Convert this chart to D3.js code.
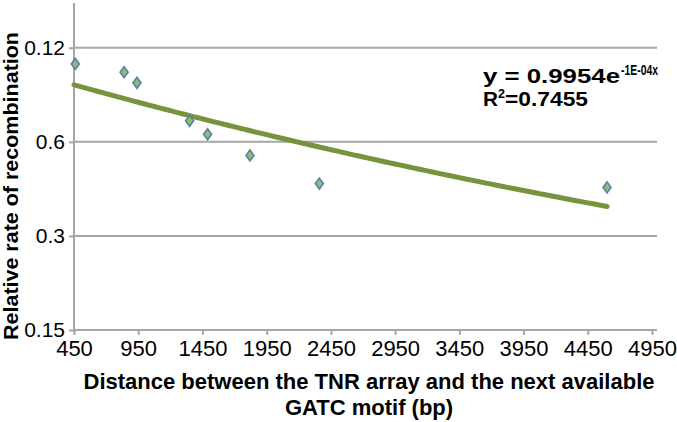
<!DOCTYPE html>
<html><head><meta charset="utf-8">
<script src="https://cdn.jsdelivr.net/npm/d3@7/dist/d3.min.js"></script>
<style>body{margin:0;background:#fff}svg{display:block;font-family:"Liberation Sans",Arial,sans-serif}</style>
</head><body><svg id="c" width="677" height="422"></svg>
<script>
// Data
const distance = [460, 840, 940, 1350, 1490, 1820, 2360, 4600];
const rate = [1.007, 0.985, 0.957, 0.856, 0.820, 0.764, 0.689, 0.679];
const xTicks = [450, 950, 1450, 1950, 2450, 2950, 3450, 3950, 4450, 4950];
const yTickValues = [0.30, 0.55, 0.80, 1.05];
const yTickLabels = ["0.15", "0.3", "0.6", "0.12"];
const trendA = 0.9954, trendB = -1e-4, trendStart = 450, trendEnd = 4600;

const svg = d3.select("#c");
const x = d3.scaleLinear().domain([450, 4950]).range([74, 652]);
const y = d3.scaleLinear().domain([0.30, 1.169]).range([330, 3]);
const gridRight = 657;
const grey = "#a6a6a6";

// gridlines
svg.append("g").selectAll("line").data(yTickValues.slice(1)).join("line")
  .attr("x1", x(450)).attr("x2", gridRight)
  .attr("y1", d => y(d)).attr("y2", d => y(d))
  .attr("stroke", grey).attr("stroke-width", 2);

// x axis
const xAxis = svg.append("g").attr("transform", `translate(0,${y(0.30)})`)
  .call(d3.axisBottom(x).tickValues(xTicks).tickSize(5).tickPadding(3).tickSizeOuter(0)
    .tickFormat(d3.format("d")));
xAxis.select(".domain").attr("stroke", grey).attr("stroke-width", 2).attr("d", `M${x(450)},0H${gridRight}`);
xAxis.selectAll(".tick line").attr("stroke", grey).attr("stroke-width", 2);
xAxis.selectAll(".tick text").attr("font-size", 22).attr("fill", "#000")
  .attr("font-family", "Liberation Sans, Arial, sans-serif").attr("y", 25.5).attr("dy", null);

// y axis
const yAxis = svg.append("g").attr("transform", `translate(${x(450)},0)`)
  .call(d3.axisLeft(y).tickValues(yTickValues).tickSize(5).tickPadding(4).tickSizeOuter(0)
    .tickFormat((d, i) => yTickLabels[i]));
yAxis.select(".domain").attr("stroke", grey).attr("stroke-width", 2).attr("d", `M0,${y(1.169)}V${y(0.30)}`);
yAxis.selectAll(".tick line").attr("stroke", grey).attr("stroke-width", 2);
yAxis.selectAll(".tick text").attr("font-size", 21).attr("fill", "#000")
  .attr("font-family", "Liberation Sans, Arial, sans-serif");

// trendline from the fitted equation
const trendX = d3.range(trendStart, trendEnd + 1, 50);
const line = d3.line().x(d => x(d)).y(d => y(trendA * Math.exp(trendB * d))).curve(d3.curveMonotoneX);
svg.append("path").datum(trendX).attr("d", line).attr("fill", "none")
  .attr("stroke", "#77933c").attr("stroke-width", 5).attr("stroke-linecap", "round");

// markers
const diamond = "M0,-5.5L4,0L0,5.5L-4,0Z";
svg.append("g").selectAll("path").data(distance).join("path")
  .attr("transform", (d, i) => `translate(${x(d)},${y(rate[i])})`)
  .attr("d", diamond).attr("fill", "#9bbb59").attr("stroke", "#4f81bd").attr("stroke-width", 1.6);

// equation
const eq = svg.append("g").attr("font-weight", "bold").attr("fill", "#000");
eq.append("text").attr("x", 483).attr("y", 83).attr("font-size", 20)
  .attr("textLength", 137).attr("lengthAdjust", "spacingAndGlyphs").text("y = 0.9954e");
eq.append("text").attr("x", 621).attr("y", 75).attr("font-size", 14)
  .attr("textLength", 37).attr("lengthAdjust", "spacingAndGlyphs").text("-1E-04x");
eq.append("text").attr("x", 483).attr("y", 106).attr("font-size", 20)
  .attr("textLength", 15).attr("lengthAdjust", "spacingAndGlyphs").text("R");
eq.append("text").attr("x", 498).attr("y", 98).attr("font-size", 13)
  .attr("textLength", 7).attr("lengthAdjust", "spacingAndGlyphs").text("2");
eq.append("text").attr("x", 505).attr("y", 106).attr("font-size", 20)
  .attr("textLength", 83).attr("lengthAdjust", "spacingAndGlyphs").text("=0.7455");

// axis titles
svg.append("text").attr("transform", "translate(18,186) rotate(-90)")
  .attr("text-anchor", "middle").attr("font-weight", "bold").attr("font-size", 21)
  .attr("textLength", 308).attr("lengthAdjust", "spacingAndGlyphs")
  .text("Relative rate of recombination");
const xt = svg.append("g").attr("text-anchor", "middle").attr("font-weight", "bold").attr("font-size", 22);
xt.append("text").attr("x", 369).attr("y", 388.5).text("Distance between the TNR array and the next available");
xt.append("text").attr("x", 369).attr("y", 414.5).text("GATC motif (bp)");
</script></body></html>
